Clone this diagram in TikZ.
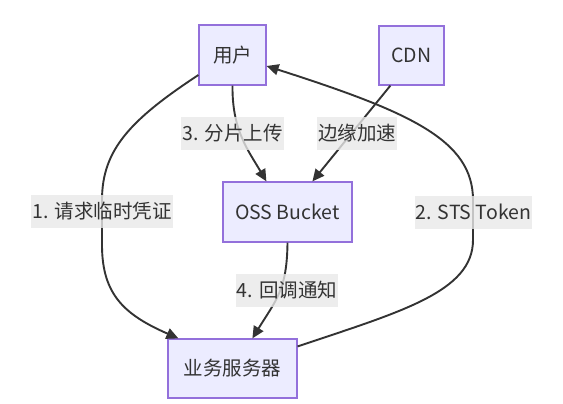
\documentclass[tikz,border=0pt]{standalone}
\usepackage{fontspec}
\setmainfont{Noto Sans CJK SC}
\usetikzlibrary{arrows.meta}
\definecolor{nodefill}{HTML}{ECECFF}
\definecolor{nodeline}{HTML}{9370DB}
\definecolor{ink}{HTML}{333333}
\definecolor{lblbg}{HTML}{E8E8E8}
\begin{document}
\begin{tikzpicture}[x=1pt,y=-1pt,
  box/.style={draw=nodeline, fill=nodefill, line width=1.2pt, text=ink,
    font=\fontsize{19.5}{23}\selectfont, inner sep=0pt},
  lbl/.style={fill=lblbg, fill opacity=0.8, text opacity=1, text=ink,
    font=\fontsize{19.5}{23}\selectfont, inner xsep=1pt, inner ysep=0pt, minimum height=33pt},
  conn/.style={draw=ink, line width=1.9pt, -{Triangle[length=12pt,width=11pt]}}]
\useasboundingbox (0,0) rectangle (563,404);
% nodes
\node[box, minimum width=67pt, minimum height=60pt] (u) at (232.5,55) {用户};
\node[box, minimum width=65pt, minimum height=59pt] (c) at (411.5,55.5) {CDN};
\node[box, minimum width=129pt, minimum height=60pt] (o) at (287.5,212) {OSS Bucket};
\node[box, minimum width=129pt, minimum height=59pt] (s) at (232.5,368.5) {业务服务器};
% connectors
\draw[conn] ([yshift=-20pt]u.west) .. controls (130,120) and (102,150) .. (102,200)
  -- (102,245) .. controls (102,295) and (125,315) .. ([xshift=11pt]s.north west);
\draw[conn] ([yshift=-8pt]s.north east) .. controls (400,312) and (473,292) .. (473,240)
  -- (473,200) .. controls (473,140) and (410,112) .. ([yshift=-11pt]u.east);
\draw[conn] (u.south) .. controls (232,130) and (248,150) .. ([xshift=44pt]o.north west);
\draw[conn] ([xshift=12pt]c.south west) -- ([xshift=90pt]o.north west);
\draw[conn] (o.south) .. controls (287,290) and (276,300) .. ([xshift=85pt]s.north west);
% labels
\node[lbl] (l3) at (232.5,133.5) {3. 分片上传};
\node[lbl] (lc) at (357,133.5) {边缘加速};
\node[lbl] (l1) at (102,211.5) {1. 请求临时凭证};
\node[lbl] (l2) at (473.5,212) {2. STS Token};
\node[lbl] (l4) at (287,290.5) {4. 回调通知};
\end{tikzpicture}
\end{document}
